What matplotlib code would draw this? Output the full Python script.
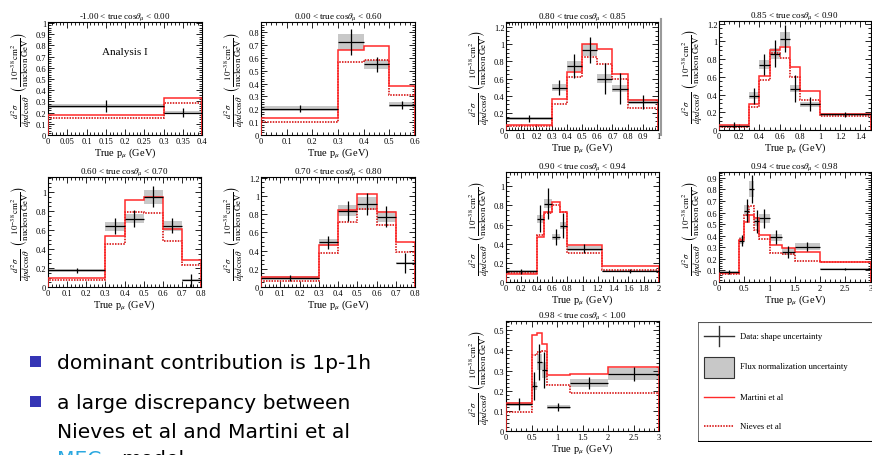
import numpy as np
import matplotlib.pyplot as plt
from matplotlib.patches import Rectangle
from matplotlib.lines import Line2D
from matplotlib.ticker import MultipleLocator, FuncFormatter

plt.rcParams['font.family'] = ['Liberation Serif', 'DejaVu Serif']
plt.rcParams['mathtext.fontset'] = 'stix'

W, H = 872, 456

# ---- data ----
# -1.00 < cos < 0.00
p1_edges   = [0, 0.3, 0.4]
p1_data    = [0.26, 0.20]
p1_err     = [0.05, 0.04]
p1_flux    = [0.015, 0.012]
p1_martini = [0.175, 0.33]
p1_nieves  = [0.15, 0.285]

# 0.00 < cos < 0.60
p2_edges   = [0, 0.3, 0.4, 0.5, 0.6]
p2_data    = [0.205, 0.725, 0.55, 0.235]
p2_err     = [0.025, 0.10, 0.06, 0.03]
p2_flux    = [0.02, 0.06, 0.035, 0.02]
p2_martini = [0.135, 0.66, 0.69, 0.385]
p2_nieves  = [0.10, 0.57, 0.585, 0.31]

# 0.60 < cos < 0.70
p3_edges   = [0, 0.3, 0.4, 0.5, 0.6, 0.7, 0.8]
p3_data    = [0.175, 0.64, 0.72, 0.95, 0.645, 0.07]
p3_err     = [0.03, 0.085, 0.09, 0.11, 0.08, 0.065]
p3_flux    = [0.02, 0.05, 0.05, 0.07, 0.05, 0.01]
p3_martini = [0.09, 0.54, 0.92, 0.945, 0.61, 0.285]
p3_nieves  = [0.07, 0.45, 0.79, 0.785, 0.48, 0.235]

# 0.70 < cos < 0.80
p4_edges   = [0, 0.3, 0.4, 0.5, 0.6, 0.7, 0.8]
p4_data    = [0.10, 0.49, 0.84, 0.915, 0.775, 0.26]
p4_err     = [0.03, 0.07, 0.11, 0.12, 0.12, 0.11]
p4_flux    = [0.02, 0.04, 0.06, 0.07, 0.06, 0.01]
p4_martini = [0.11, 0.46, 0.85, 1.02, 0.83, 0.49]
p4_nieves  = [0.066, 0.37, 0.71, 0.86, 0.68, 0.39]

# 0.80 < cos < 0.85
p5_edges   = [0, 0.3, 0.4, 0.5, 0.6, 0.7, 0.8, 1.0]
p5_data    = [0.135, 0.495, 0.75, 0.93, 0.60, 0.48, 0.33]
p5_err     = [0.04, 0.09, 0.14, 0.15, 0.18, 0.18, 0.08]
p5_flux    = [0.02, 0.04, 0.06, 0.07, 0.05, 0.04, 0.03]
p5_martini = [0.062, 0.36, 0.68, 1.0, 0.94, 0.65, 0.345]
p5_nieves  = [0.043, 0.30, 0.62, 0.855, 0.77, 0.59, 0.26]

# 0.85 < cos < 0.90
p6_edges   = [0, 0.3, 0.4, 0.5, 0.6, 0.7, 0.8, 1.0, 1.5]
p6_data    = [0.05, 0.385, 0.736, 0.86, 1.03, 0.467, 0.29, 0.175]
p6_err     = [0.04, 0.09, 0.12, 0.15, 0.15, 0.15, 0.08, 0.03]
p6_flux    = [0.01, 0.04, 0.05, 0.06, 0.08, 0.04, 0.03, 0.02]
p6_martini = [0.056, 0.29, 0.61, 0.90, 0.935, 0.71, 0.435, 0.18]
p6_nieves  = [0.037, 0.26, 0.565, 0.87, 0.815, 0.60, 0.34, 0.155]

# 0.90 < cos < 0.94
p7_edges   = [0, 0.4, 0.5, 0.6, 0.7, 0.8, 1.25, 2.0]
p7_data    = [0.11, 0.66, 0.82, 0.47, 0.59, 0.35, 0.115]
p7_err     = [0.03, 0.14, 0.16, 0.08, 0.13, 0.05, 0.02]
p7_flux    = [0.02, 0.04, 0.05, 0.03, 0.04, 0.03, 0.01]
p7_martini = [0.08, 0.47, 0.73, 0.835, 0.73, 0.39, 0.167]
p7_nieves  = [0.09, 0.49, 0.72, 0.80, 0.73, 0.30, 0.13]

# 0.94 < cos < 0.98
p8_edges   = [0, 0.4, 0.5, 0.6, 0.7, 0.8, 1.0, 1.25, 1.5, 2.0, 3.0]
p8_data    = [0.085, 0.357, 0.616, 0.80, 0.523, 0.55, 0.387, 0.26, 0.305, 0.11]
p8_err     = [0.02, 0.05, 0.10, 0.12, 0.10, 0.08, 0.06, 0.05, 0.04, 0.01]
p8_flux    = [0.01, 0.03, 0.05, 0.07, 0.04, 0.04, 0.03, 0.03, 0.03, 0.01]
p8_martini = [0.08, 0.36, 0.515, 0.58, 0.55, 0.41, 0.32, 0.29, 0.26, 0.174]
p8_nieves  = [0.065, 0.375, 0.58, 0.66, 0.45, 0.37, 0.25, 0.24, 0.18, 0.174]

# 0.98 < cos < 1.00
p9_edges   = [0, 0.5, 0.6, 0.7, 0.8, 1.25, 2.0, 3.0]
p9_data    = [0.133, 0.225, 0.344, 0.304, 0.118, 0.24, 0.283]
p9_err     = [0.03, 0.07, 0.09, 0.09, 0.02, 0.03, 0.035]
p9_flux    = [0.01, 0.02, 0.04, 0.04, 0.01, 0.02, 0.03]
p9_martini = [0.14, 0.477, 0.488, 0.434, 0.28, 0.283, 0.316]
p9_nieves  = [0.095, 0.377, 0.393, 0.398, 0.23, 0.19, 0.19]

titles = ['-1.00 < true cos$\\theta_{\\mu}$ < 0.00', '0.00 < true cos$\\theta_{\\mu}$ < 0.60',
          '0.60 < true cos$\\theta_{\\mu}$ < 0.70', '0.70 < true cos$\\theta_{\\mu}$ < 0.80',
          '0.80 < true cos$\\theta_{\\mu}$ < 0.85', '0.85 < true cos$\\theta_{\\mu}$ < 0.90',
          '0.90 < true cos$\\theta_{\\mu}$ < 0.94', '0.94 < true cos$\\theta_{\\mu}$ < 0.98',
          '0.98 < true cos$\\theta_{\\mu}$ < 1.00']

bullets = ['dominant contribution is 1p-1h',
           'a large discrepancy between',
           'Nieves et al and Martini et al']

fig = plt.figure(figsize=(W / 100, H / 100), dpi=100)

ylab = (r'$\frac{d^{2}\sigma}{dp d\cos\theta}\ \left(\frac{10^{-38}\,\mathrm{cm}^{2}}'
        r'{\mathrm{nucleon\ GeV}}\right)$')


def panel(box, title, edges, data, err, flux, martini, nieves, xlim, ylim, xmaj, xmin, ymaj, ymin):
    l, t, r, b = box
    ax = fig.add_axes([l / W, 1 - b / H, (r - l) / W, (b - t) / H])
    edges = np.array(edges)
    cen = (edges[:-1] + edges[1:]) / 2
    half = np.diff(edges) / 2
    for i in range(len(data)):
        ax.add_patch(Rectangle((edges[i], data[i] - flux[i]), 2 * half[i], 2 * flux[i],
                               fc='#c8c8c8', ec='none', zorder=1))
    ax.stairs(nieves, edges, color='#d40000', ls=(0, (1, 0.8)), lw=1.1, zorder=2)
    ax.stairs(martini, edges, color='#ff2a2a', lw=1.1, zorder=3)
    ax.errorbar(cen, data, xerr=half, yerr=err, fmt='none', ecolor='black',
                elinewidth=0.9, capsize=0, zorder=4)
    ax.set_xlim(*xlim)
    ax.set_ylim(*ylim)
    ax.xaxis.set_major_locator(MultipleLocator(xmaj))
    ax.xaxis.set_minor_locator(MultipleLocator(xmin))
    ax.yaxis.set_major_locator(MultipleLocator(ymaj))
    ax.yaxis.set_minor_locator(MultipleLocator(ymin))
    f = FuncFormatter(lambda v, p: '%g' % round(v, 3))
    ax.xaxis.set_major_formatter(f)
    ax.yaxis.set_major_formatter(f)
    ax.tick_params(which='both', direction='in', top=True, right=True, labelsize=6, pad=1.2, width=0.6)
    ax.tick_params(which='major', length=4)
    ax.tick_params(which='minor', length=2)
    for s in ax.spines.values():
        s.set_linewidth(0.8)
    ax.set_title(title, fontsize=6.5, pad=3)
    ax.set_xlabel('True p$_{\\mu}$ (GeV)', fontsize=7.5, labelpad=0)
    ax.set_ylabel(ylab, fontsize=9, labelpad=1)
    return ax


a1 = panel((48, 23, 202, 136), titles[0], p1_edges, p1_data, p1_err, p1_flux, p1_martini, p1_nieves,
           (0, 0.4), (0, 1.01), 0.05, 0.01, 0.1, 0.02)
a1.text(0.5, 0.74, 'Analysis I', fontsize=8, ha='center', va='center', transform=a1.transAxes)
panel((261, 23, 415, 136), titles[1], p2_edges, p2_data, p2_err, p2_flux, p2_martini, p2_nieves,
      (0, 0.6), (0, 0.88), 0.1, 0.02, 0.1, 0.02)
panel((48, 178, 201, 288), titles[2], p3_edges, p3_data, p3_err, p3_flux, p3_martini, p3_nieves,
      (0, 0.8), (0, 1.16), 0.1, 0.02, 0.2, 0.05)
panel((261, 178, 415, 288), titles[3], p4_edges, p4_data, p4_err, p4_flux, p4_martini, p4_nieves,
      (0, 0.8), (0, 1.21), 0.1, 0.02, 0.2, 0.05)
panel((506, 23, 658, 131), titles[4], p5_edges, p5_data, p5_err, p5_flux, p5_martini, p5_nieves,
      (0, 1.0), (0, 1.26), 0.1, 0.02, 0.2, 0.05)
panel((719, 22, 870.5, 131), titles[5], p6_edges, p6_data, p6_err, p6_flux, p6_martini, p6_nieves,
      (0, 1.5), (0, 1.23), 0.2, 0.05, 0.2, 0.05)
panel((506, 173, 659, 283), titles[6], p7_edges, p7_data, p7_err, p7_flux, p7_martini, p7_nieves,
      (0, 2.0), (0, 1.15), 0.2, 0.05, 0.2, 0.05)
panel((719, 173, 870.5, 283), titles[7], p8_edges, p8_data, p8_err, p8_flux, p8_martini, p8_nieves,
      (0, 3.0), (0, 0.95), 0.5, 0.1, 0.1, 0.02)
panel((506, 322, 659, 432), titles[8], p9_edges, p9_data, p9_err, p9_flux, p9_martini, p9_nieves,
      (0, 3.0), (0, 0.546), 0.5, 0.1, 0.1, 0.02)

# faint separator from the pasted image
fig.add_artist(Line2D([661 / W, 661 / W], [1 - 20 / H, 1 - 136 / H], color='#9a9a9a', lw=1.5))

# ---- legend box ----
lg = fig.add_axes([698 / W, 1 - 443 / H, 174 / W, 120 / H])
lg.set_xlim(0, 1)
lg.set_ylim(0, 1)
lg.axis('off')
lg.plot([0, 1], [1, 1], color='#555555', lw=0.8)
lg.plot([0, 0], [0, 1], color='#555555', lw=1.2)
lg.plot([0, 1], [0, 0], color='black', lw=1.5)
lg.plot([0.034, 0.207], [0.883, 0.883], color='#333333', lw=1.0)
lg.plot([0.12, 0.12], [0.80, 0.97], color='#333333', lw=1.0)
lg.add_patch(Rectangle((0.034, 0.533), 0.173, 0.175, fc='#c8c8c8', ec='#333333', lw=0.8))
lg.plot([0.034, 0.207], [0.375, 0.375], color='#ff2a2a', lw=1.0)
lg.plot([0.034, 0.207], [0.133, 0.133], color='#d40000', lw=1.1, ls=(0, (1, 0.8)))
leg_labels = ['Data: shape uncertainty', 'Flux normalization uncertainty', 'Martini et al', 'Nieves et al']
for yy, s in zip([0.883, 0.633, 0.375, 0.133], leg_labels):
    lg.text(0.241, yy, s, fontsize=6.2, va='center')

# ---- bullet text ----
sq = 11
for yc in [362.5, 402.5]:
    fig.add_artist(Rectangle(((35.5 - sq / 2) / W, 1 - (yc + sq / 2) / H), sq / W, sq / H,
                             fc='#3535b5', ec='none'))
for yb, s in zip([369, 409, 438], bullets):
    fig.text(57 / W, 1 - yb / H, s, fontsize=14.6, family='DejaVu Sans', va='baseline')
fig.text(57 / W, 1 - 465 / H, 'MEC', fontsize=14.6, family='DejaVu Sans', va='baseline', color='#2aa8e0')
fig.text(121 / W, 1 - 465 / H, 'model', fontsize=14.6, family='DejaVu Sans', va='baseline')

fig.savefig('out.png', dpi=100)
